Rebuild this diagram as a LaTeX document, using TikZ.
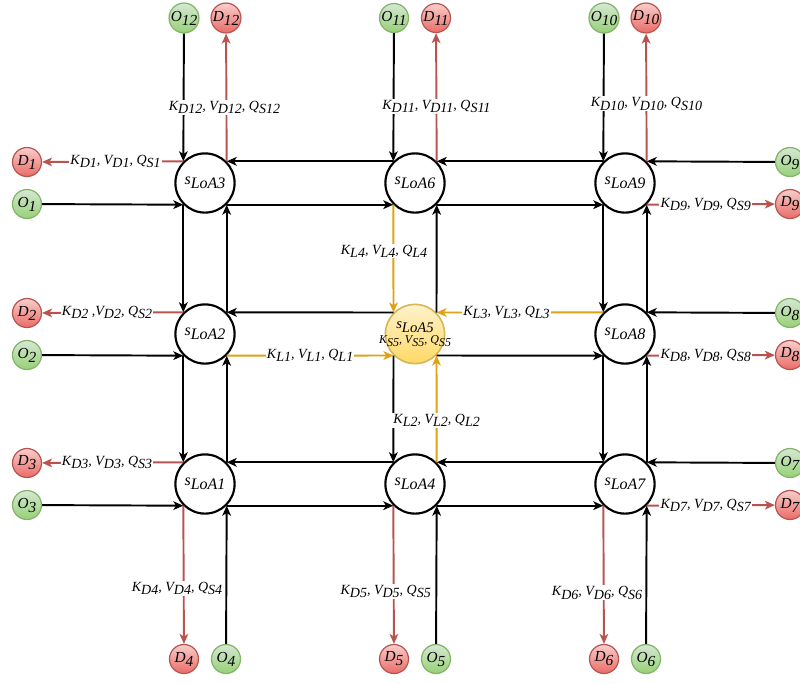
\documentclass[tikz,border=0pt]{standalone}
\usepackage{fontspec}
\setmainfont{Liberation Serif}
\usetikzlibrary{arrows.meta}
\definecolor{redln}{HTML}{B85450}
\definecolor{redtop}{HTML}{F8CECC}
\definecolor{redbot}{HTML}{EA6B66}
\definecolor{grnln}{HTML}{82B366}
\definecolor{grntop}{HTML}{D5E8D4}
\definecolor{grnbot}{HTML}{97D077}
\definecolor{orgln}{RGB}{222,162,20}
\definecolor{yeltop}{HTML}{FFF2CC}
\definecolor{yelbot}{HTML}{FFD966}
\definecolor{yelln}{HTML}{D6B656}
\newcommand{\lsub}[1]{\raisebox{-2.5pt}{#1}}
\newcommand{\nsub}[1]{\raisebox{-3pt}{#1}}
\newcommand{\kvq}[3]{K\lsub{#1}, V\lsub{#2}, Q\lsub{#3}}
\begin{document}
\begin{tikzpicture}[x=0.75pt,y=-0.75pt,
  big/.style={circle, draw=black, line width=1.6pt, fill=white, minimum size=44.4pt, inner sep=0pt,
    font=\fontsize{12}{14}\selectfont\itshape},
  ctr/.style={circle, draw=yelln, line width=1.2pt, top color=yeltop, bottom color=yelbot,
    minimum size=44.4pt, inner sep=0pt},
  ctrtext/.style={inner sep=0pt, align=center, font=\itshape},
  onode/.style={circle, draw=grnln, line width=0.9pt, top color=grntop, bottom color=grnbot,
    minimum size=21.75pt, inner sep=0pt, font=\fontsize{11.5}{13}\selectfont\itshape},
  dnode/.style={circle, draw=redln, line width=0.9pt, top color=redtop, bottom color=redbot,
    minimum size=21.75pt, inner sep=0pt, font=\fontsize{11.5}{13}\selectfont\itshape},
  blk/.style={draw=black, line width=1.45pt, -{Stealth[length=7.5pt,width=6.5pt,inset=2pt]}},
  rd/.style={draw=redln, line width=1.45pt, -{Stealth[length=7.5pt,width=6.5pt,inset=2pt]}},
  org/.style={draw=orgln, line width=1.45pt, -{Stealth[length=7.5pt,width=6.5pt,inset=2pt]}},
  lab/.style={fill=white, inner sep=0.8pt, font=\fontsize{10.5}{12}\selectfont\itshape}
]
\useasboundingbox (0,0) rectangle (800,683);
\clip (0,0) rectangle (800,683);

% main nodes
\node[big] (L3) at (205,183) {s\nsub{LoA3}};
\node[big] (L6) at (415,183) {s\nsub{LoA6}};
\node[big] (L9) at (625,183) {s\nsub{LoA9}};
\node[big] (L2) at (205,334) {s\nsub{LoA2}};
\node[ctr] (L5) at (415,334) {};
\node[ctrtext] (L5t) at (L5.center) {{\fontsize{11}{13}\selectfont s\nsub{LoA5}}\\[-1pt]{\fontsize{9}{10}\selectfont K\raisebox{-2pt}{S5}, V\raisebox{-2pt}{S5}, Q\raisebox{-2pt}{S5}}};
\node[big] (L8) at (625,334) {s\nsub{LoA8}};
\node[big] (L1) at (205,484) {s\nsub{LoA1}};
\node[big] (L4) at (415,484) {s\nsub{LoA4}};
\node[big] (L7) at (625,484) {s\nsub{LoA7}};

% top
\node[onode] (O12) at (184,18) {O\nsub{12}};
\node[dnode] (D12) at (226,18) {D\nsub{12}};
\node[onode] (O11) at (394,18) {O\nsub{11}};
\node[dnode] (D11) at (436,18) {D\nsub{11}};
\node[onode] (O10) at (604,18) {O\nsub{10}};
\node[dnode] (D10) at (646,18) {D\nsub{10}};
% left
\node[dnode] (D1) at (27,162) {D\nsub{1}};
\node[onode] (O1) at (27,204) {O\nsub{1}};
\node[dnode] (D2) at (27,313) {D\nsub{2}};
\node[onode] (O2) at (27,355) {O\nsub{2}};
\node[dnode] (D3) at (27,463) {D\nsub{3}};
\node[onode] (O3) at (27,505) {O\nsub{3}};
% right
\node[onode] (O9) at (790,162) {O\nsub{9}};
\node[dnode] (D9) at (790,204) {D\nsub{9}};
\node[onode] (O8) at (790,313) {O\nsub{8}};
\node[dnode] (D8) at (790,355) {D\nsub{8}};
\node[onode] (O7) at (790,463) {O\nsub{7}};
\node[dnode] (D7) at (790,505) {D\nsub{7}};
% bottom
\node[dnode] (D4) at (184,659) {D\nsub{4}};
\node[onode] (O4) at (226,659) {O\nsub{4}};
\node[dnode] (D5) at (394,659) {D\nsub{5}};
\node[onode] (O5) at (436,659) {O\nsub{5}};
\node[dnode] (D6) at (604,659) {D\nsub{6}};
\node[onode] (O6) at (646,659) {O\nsub{6}};

% row 1
\draw[blk] (O9) -- (L9.45);
\draw[blk] (L9.135) -- (L6.45);
\draw[blk] (L6.135) -- (L3.45);
\draw[blk] (O1) -- (L3.-135);
\draw[blk] (L3.-45) -- (L6.-135);
\draw[blk] (L6.-45) -- (L9.-135);
% row 2
\draw[blk] (O8) -- (L8.45);
\draw[blk] (L5.135) -- (L2.45);
\draw[blk] (O2) -- (L2.-135);
\draw[blk] (L5.-45) -- (L8.-135);
% row 3
\draw[blk] (O7) -- (L7.45);
\draw[blk] (L7.135) -- (L4.45);
\draw[blk] (L4.135) -- (L1.45);
\draw[blk] (O3) -- (L1.-135);
\draw[blk] (L1.-45) -- (L4.-135);
\draw[blk] (L4.-45) -- (L7.-135);
% col 1
\draw[blk] (O12) -- (L3.135);
\draw[blk] (L3.-135) -- (L2.135);
\draw[blk] (L2.-135) -- (L1.135);
\draw[blk] (O4) -- (L1.-45);
\draw[blk] (L1.45) -- (L2.-45);
\draw[blk] (L2.45) -- (L3.-45);
% col 2
\draw[blk] (O11) -- (L6.135);
\draw[blk] (L5.-135) -- (L4.135);
\draw[blk] (O5) -- (L4.-45);
\draw[blk] (L5.45) -- (L6.-45);
% col 3
\draw[blk] (O10) -- (L9.135);
\draw[blk] (L9.-135) -- (L8.135);
\draw[blk] (L8.-135) -- (L7.135);
\draw[blk] (O6) -- (L7.-45);
\draw[blk] (L7.45) -- (L8.-45);
\draw[blk] (L8.45) -- (L9.-45);

% orange links
\draw[org] (L8.135) -- node[lab,pos=0.58] {\kvq{L3}{L3}{L3}} (L5.45);
\draw[org] (L2.-45) -- node[lab,pos=0.5] {\kvq{L1}{L1}{L1}} (L5.-135);
\draw[org] (L6.-135) -- node[lab,pos=0.43,xshift=-7pt] {\kvq{L4}{L4}{L4}} (L5.135);
\draw[org] (L4.45) -- node[lab,pos=0.39] {\kvq{L2}{L2}{L2}} (L5.-45);

% red outputs
\draw[rd] (L3.135) -- node[lab,pos=0.48] {\kvq{D1}{D1}{S1}} (D1);
\draw[rd] (L2.135) -- node[lab,pos=0.54] {K\lsub{D2} ,V\lsub{D2}, Q\lsub{S2}} (D2);
\draw[rd] (L1.135) -- node[lab,pos=0.54] {\kvq{D3}{D3}{S3}} (D3);
\draw[rd] (L9.-45) -- node[lab,pos=0.46] {\kvq{D9}{D9}{S9}} (D9);
\draw[rd] (L8.-45) -- node[lab,pos=0.46] {\kvq{D8}{D8}{S8}} (D8);
\draw[rd] (L7.-45) -- node[lab,pos=0.46] {\kvq{D7}{D7}{S7}} (D7);
\draw[rd] (L3.45) -- node[lab,pos=0.42,xshift=-1.5pt] {\kvq{D12}{D12}{S12}} (D12);
\draw[rd] (L6.45) -- node[lab,pos=0.43] {\kvq{D11}{D11}{S11}} (D11);
\draw[rd] (L9.45) -- node[lab,pos=0.45] {\kvq{D10}{D10}{S10}} (D10);
\draw[rd] (L1.-135) -- node[lab,pos=0.6,xshift=-5pt] {\kvq{D4}{D4}{S4}} (D4);
\draw[rd] (L4.-135) -- node[lab,pos=0.62,xshift=-6pt] {\kvq{D5}{D5}{S5}} (D5);
\draw[rd] (L7.-135) -- node[lab,pos=0.63,xshift=-5pt] {\kvq{D6}{D6}{S6}} (D6);
\end{tikzpicture}
\end{document}
